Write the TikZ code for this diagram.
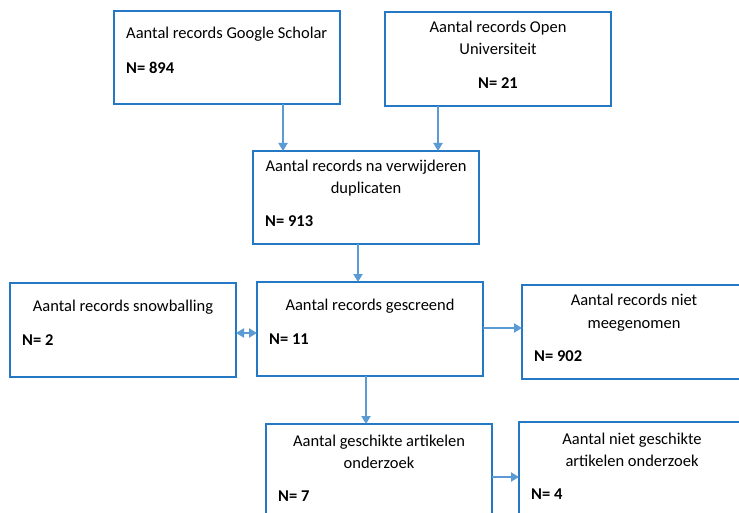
\documentclass[tikz,border=0pt]{standalone}
\usepackage{fontspec}
\setmainfont{Carlito}
\usetikzlibrary{arrows.meta}
\definecolor{boxblue}{RGB}{36,120,196}
\definecolor{arrblue}{RGB}{91,155,213}
\tikzset{
  box/.style={draw=boxblue, line width=2pt, fill=white},
  txt/.style={font=\fontsize{16.5}{18}\selectfont, inner sep=0pt, anchor=base},
  num/.style={font=\fontsize{16.5}{18}\selectfont\bfseries, inner sep=0pt, anchor=base west},
  arr/.style={draw=arrblue, line width=2pt, -{Triangle[length=8pt,width=9pt]}},
  darr/.style={draw=arrblue, line width=2pt, {Triangle[length=8pt,width=9pt]}-{Triangle[length=8pt,width=9pt]}}
}
\begin{document}
\begin{tikzpicture}[x=1pt,y=-1pt]
\useasboundingbox (0,0) rectangle (739,513);
\clip (0,0) rectangle (739,513);
\fill[white] (0,0) rectangle (739,513);
% boxes
\draw[box] (114,11) rectangle (340,104);
\coordinate (gsS) at (283,104);
\draw[box] (385,12) rectangle (611,106);
\coordinate (ouS) at (438,106);
\draw[box] (253,151) rectangle (479,244);
\coordinate (dupNa) at (283,151);
\coordinate (dupNb) at (438,151);
\coordinate (dupS) at (358,244);
\draw[box] (10,283) rectangle (236,377);
\coordinate (snE) at (236,333);
\draw[box] (257,282) rectangle (483,376);
\coordinate (scN) at (358,282);
\coordinate (scW) at (257,333);
\coordinate (scE) at (483,328);
\coordinate (scS) at (366,376);
\draw[box] (522,285) rectangle (760,379);
\coordinate (nmW) at (522,328);
\draw[box] (266,424) rectangle (492,540);
\coordinate (geN) at (366,424);
\coordinate (geE) at (492,477);
\draw[box] (519,422) rectangle (760,540);
\coordinate (ngW) at (519,477);
% texts
\node[txt, anchor=base west] (t1) at (126,39) {Aantal records Google Scholar};
\node[num] (n1) at (126,74) {N= 894};
\node[txt] (t2a) at (498,33) {Aantal records Open};
\node[txt] (t2b) at (498,55) {Universiteit};
\node[txt, font=\fontsize{16.5}{18}\selectfont\bfseries] (n2) at (498,89) {N= 21};
\node[txt] (t3a) at (366,172) {Aantal records na verwijderen};
\node[txt] (t3b) at (366,194) {duplicaten};
\node[num] (n3) at (265,227) {N= 913};
\node[txt] (t4) at (123,311) {Aantal records snowballing};
\node[num] (n4) at (22,345) {N= 2};
\node[txt] (t5) at (370,310) {Aantal records gescreend};
\node[num] (n5) at (269,344) {N= 11};
\node[txt] (t6a) at (634,305) {Aantal records niet};
\node[txt] (t6b) at (634,328) {meegenomen};
\node[num] (n6) at (534,361) {N= 902};
\node[txt] (t7a) at (379,446) {Aantal geschikte artikelen};
\node[txt] (t7b) at (379,468) {onderzoek};
\node[num] (n7) at (278,501) {N= 7};
\node[txt] (t8a) at (632,444) {Aantal niet geschikte};
\node[txt] (t8b) at (632,466) {artikelen onderzoek};
\node[num] (n8) at (531,499) {N= 4};
% arrows
\draw[arr] (gsS) -- (dupNa);
\draw[arr] (ouS) -- (dupNb);
\draw[arr] (dupS) -- (scN);
\draw[darr] (snE) -- (scW);
\draw[arr] (scE) -- (nmW);
\draw[arr] (scS) -- (geN);
\draw[arr] (geE) -- (ngW);
\end{tikzpicture}
\end{document}
